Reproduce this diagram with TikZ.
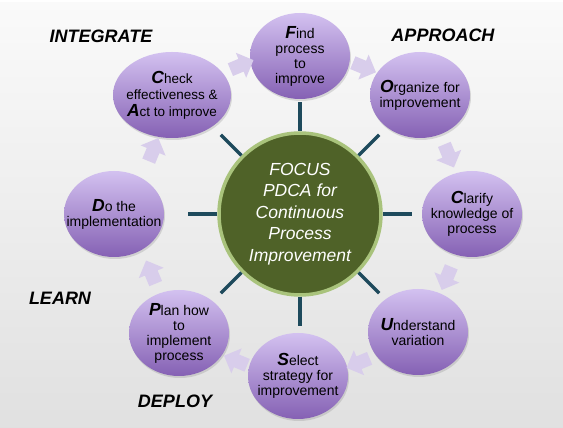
\documentclass[tikz,border=0pt]{standalone}
\usepackage{fontspec}
\setmainfont{Liberation Sans}
\usetikzlibrary{shapes,shapes.arrows,shadows,positioning}
\definecolor{hubgreen}{HTML}{4F6228}
\definecolor{hubrim}{HTML}{A9C37C}
\definecolor{spokeblue}{HTML}{1E4A5C}
\definecolor{stagetop}{HTML}{D3C1F0}
\definecolor{stagebot}{HTML}{8561B4}
\definecolor{flowlav}{HTML}{D8CDEB}
\newcommand{\initcap}[1]{{\fontsize{17.5}{15}\selectfont\bfseries\itshape #1}}
\tikzset{
    x=1pt,
    y=1pt,
    stage/.style={
        ellipse,
        top color=stagetop,
        bottom color=stagebot,
        minimum width=100,
        minimum height=86,
        inner sep=0pt,
        drop shadow={shadow xshift=1pt,shadow yshift=-2pt,opacity=0.25},
    },
    stagetxt/.style={
        align=center,
        inner sep=0pt,
        font=\fontsize{14}{15}\selectfont,
    },
    hub/.style={
        circle,
        fill=hubgreen,
        draw=hubrim,
        line width=3.5pt,
        minimum size=162,
        align=center,
        text=white,
        font=\fontsize{17.5}{21.5}\selectfont\itshape,
    },
    spoke/.style={
        draw=spokeblue,
        line width=3.5pt,
    },
    flow/.style={
        single arrow,
        fill=flowlav,
        minimum height=25,
        minimum width=27,
        inner sep=6.5pt,
        single arrow head extend=6.5pt,
    },
    phase/.style={
        font=\fontsize{18}{20}\selectfont\bfseries\itshape,
    },
}
\begin{document}
\begin{tikzpicture}
    \useasboundingbox (0,0) rectangle (563,428);
    \fill[top color=gray!4, bottom color=gray!24] (0,0) rectangle (563,425);

    \coordinate (c) at (300,214);
    \node [hub] (H) at (c) {FOCUS\\PDCA for\\Continuous\\Process\\Improvement};

    % spokes
    \foreach \a in {0,45,...,315}
        \draw [spoke] (H.\a) -- ([shift={(\a:112)}]c);

    % the eight steps
    \node [stage, label={[stagetxt]center:{\initcap{F}ind\\process\\to\\improve}}] (F) at (300,372) {};
    \node [stage, label={[stagetxt]center:{\initcap{O}rganize for\\improvement}}] (O) at (420,333) {};
    \node [stage, label={[stagetxt]center:{\initcap{C}larify\\knowledge of\\process}}] (C) at (472,214) {};
    \node [stage, label={[stagetxt]center:{\initcap{U}nderstand\\variation}}] (U) at (418,96) {};
    \node [stage, label={[stagetxt]center:{\initcap{S}elect\\strategy for\\improvement}}] (S) at (298,52) {};
    \node [stage, label={[stagetxt]center:{\initcap{P}lan how\\to\\implement\\process}}] (P) at (179,95) {};
    \node [stage, label={[stagetxt]center:{\initcap{D}o the\\implementation}}] (D) at (114,214) {};
    \node [stage, minimum width=118, label={[stagetxt, font=\fontsize{13.5}{14.5}\selectfont]center:{\initcap{C}heck\\[2pt]effectiveness \&\\[2pt]\initcap{A}ct to improve}}] (CA) at (172,333) {};

    % arrows between steps
    \foreach \a [count=\i] in {22.5,67.5,...,337.5}
        \node [flow, rotate=\a-90] (A\i) at ([shift={(\a:160)}]c) {};

    \node [phase] (integrate) at (101,392) {INTEGRATE};
    \node [phase] (approach) at (443,393) {APPROACH};
    \node [phase] (learn) at (60,130) {LEARN};
    \node [phase] (deploy) at (175,27) {DEPLOY};
\end{tikzpicture}
\end{document}
